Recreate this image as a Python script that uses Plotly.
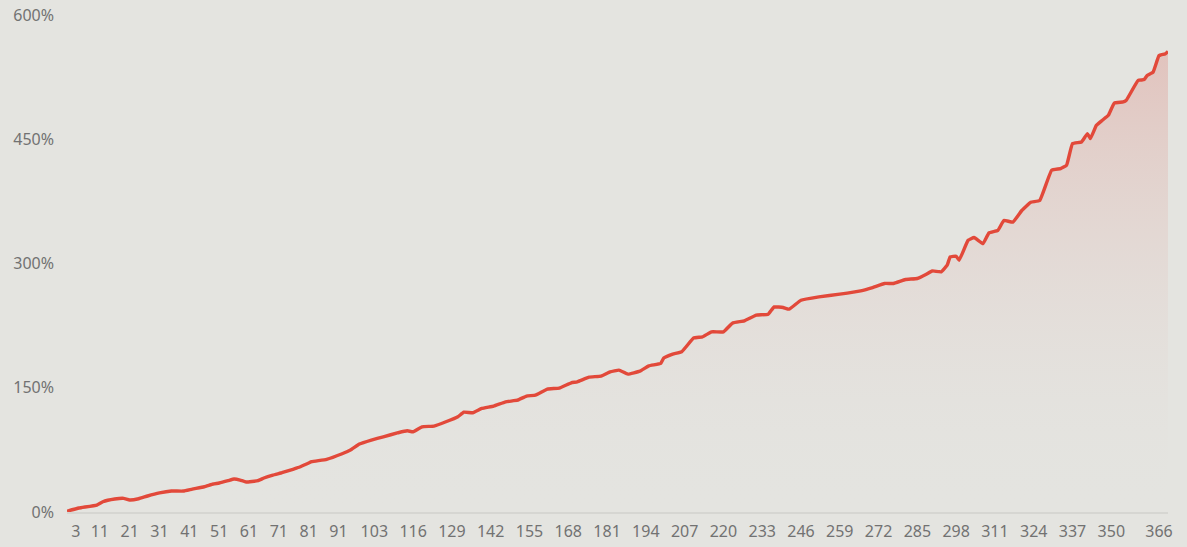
import plotly.graph_objects as go

days = [0, 4, 10, 12, 16, 19, 21, 24, 27, 31, 35, 39, 42, 46, 49, 51, 54, 56, 58, 60,
        64, 66, 69, 72, 76, 78, 81, 82, 87, 92, 95, 98, 102, 106, 111, 114, 116, 119,
        123, 127, 131, 133, 136, 139, 143, 147, 151, 154, 157, 161, 165, 169, 171, 175,
        179, 182, 185, 188, 192, 195, 199, 200, 203, 206, 210, 213, 216, 220, 223, 227,
        231, 235, 237, 240, 242, 246, 252, 259, 266, 270, 274, 277, 281, 285, 288, 290,
        293, 295, 296, 298, 299, 302, 304, 307, 309, 312, 314, 317, 320, 323, 326, 330,
        333, 335, 337, 340, 342, 343, 345, 347, 349, 351, 354, 355, 359, 361, 362, 364,
        366, 368, 369]
values = [1, 4.8, 8.4, 12.4, 15.7, 16.5, 14.5, 16, 19.3, 23, 25.3, 25.3, 27.7, 30.5, 33.8,
          35, 37.8, 39.8, 38.6, 36.2, 37.8, 41, 44.6, 47.4, 51.9, 54.3, 59.1, 60.7, 63.6,
          70, 74.8, 82, 86.9, 90.8, 95.7, 98, 96.9, 102.9, 103.7, 108.9, 115, 120.6, 119.8,
          125, 127.9, 133, 135, 140, 141, 148.4, 149.6, 156, 157.2, 162.8, 164, 169.2,
          171.3, 166.5, 170, 176.5, 179.4, 185.8, 190.6, 193.4, 210, 211.5, 217.5, 217.5,
          228, 230.8, 237.6, 238.8, 247.6, 246.9, 244.9, 255.7, 259.7, 263, 267, 271,
          275.9, 275.9, 280.7, 281.9, 287.1, 291, 289.9, 298, 308, 308.8, 304, 328, 331.4,
          324, 337, 340, 352, 350, 364, 374, 376, 412.5, 414.6, 418.6, 444.8, 446.7,
          456.8, 450.8, 466.8, 472.9, 478.9, 493.7, 495, 497, 521, 522, 527, 531, 551,
          553, 556]

x_ticks = [3, 11, 21, 31, 41, 51, 61, 71, 81, 91, 103, 116, 129, 142, 155, 168, 181,
           194, 207, 220, 233, 246, 259, 272, 285, 298, 311, 324, 337, 350, 366]
y_ticks = [0, 150, 300, 450, 600]
y_labels = ["0%", "150%", "300%", "450%", "600%"]

bg = "#e4e4e0"
fig = go.Figure()
fig.add_trace(go.Scatter(
    x=days, y=values, mode="lines",
    line=dict(color="#e2493a", width=3.4, shape="spline", smoothing=0.3),
    fill="tozeroy",
    fillgradient=dict(type="vertical",
                      colorscale=[[0, "rgba(228,228,224,0)"],
                                  [1, "rgba(218,110,100,0.28)"]]),
    hoverinfo="skip", showlegend=False,
))
fig.update_layout(
    width=1187, height=547,
    paper_bgcolor=bg, plot_bgcolor=bg,
    margin=dict(l=67, r=19, t=15, b=35),
    font=dict(family="Noto Sans", size=16, color="#727272"),
    xaxis=dict(range=[0, 369], tickmode="array", tickvals=x_ticks,
               ticktext=[str(t) for t in x_ticks], showgrid=False, zeroline=False,
               showline=True, linecolor="#d6d6d2", linewidth=2, ticks="",
               ticklabelstandoff=4, automargin=False),
    yaxis=dict(range=[0, 600], tickmode="array", tickvals=y_ticks, ticktext=y_labels,
               showgrid=False, zeroline=False, showline=False, ticks="",
               ticklabelstandoff=12, automargin=False),
)
fig.write_html("out.html",
               config={"displayModeBar": False},
               post_script="document.body.style.margin='0';"
                           "document.body.style.background='#e4e4e0';")
